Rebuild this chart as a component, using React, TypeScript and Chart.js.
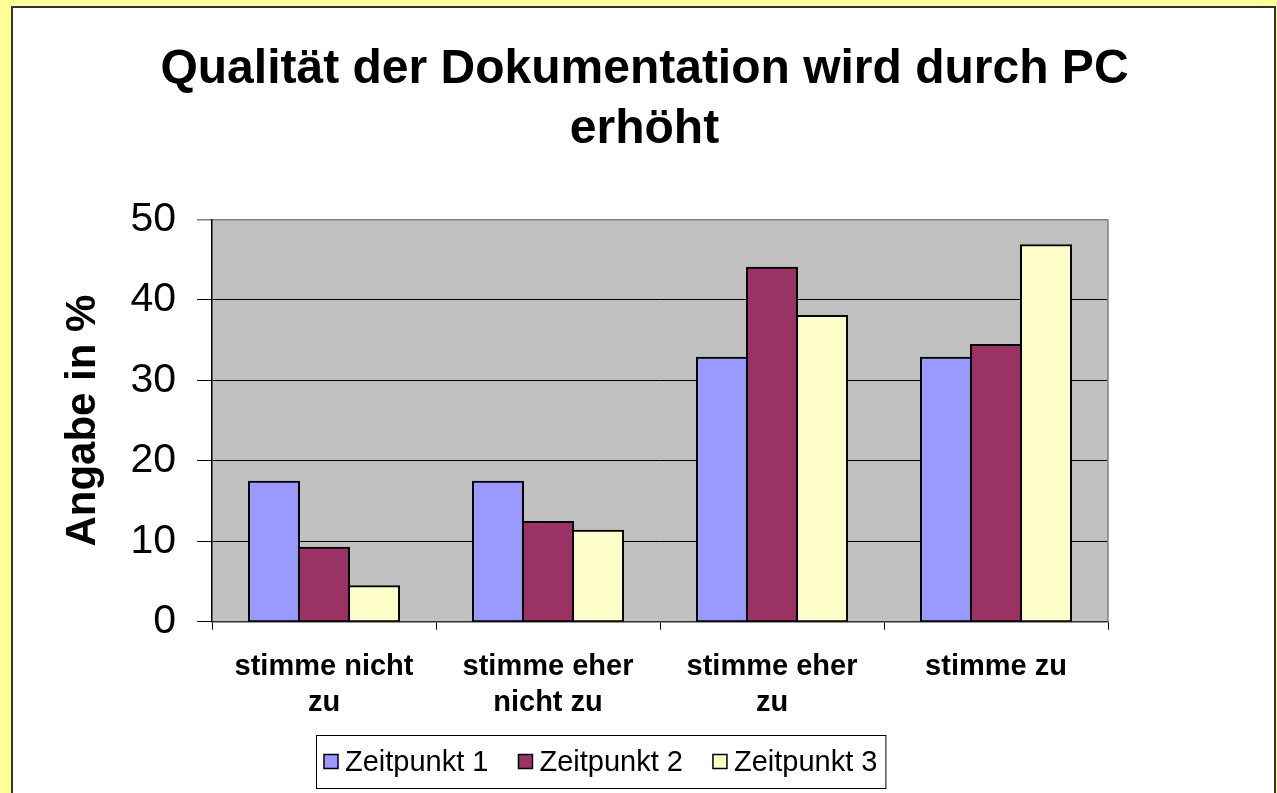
import React, { useEffect, useRef } from 'react';
import { Chart, registerables } from 'chart.js';

Chart.register(...registerables);

const categories: string[][] = [
  ['stimme nicht', 'zu'],
  ['stimme eher', 'nicht zu'],
  ['stimme eher', 'zu'],
  ['stimme zu'],
];
const seriesNames = ['Zeitpunkt 1', 'Zeitpunkt 2', 'Zeitpunkt 3'];
const zeitpunkt1 = [17.4, 17.4, 32.8, 32.8];
const zeitpunkt2 = [9.2, 12.4, 44.0, 34.4];
const zeitpunkt3 = [4.4, 11.3, 38.0, 46.8];
const seriesColors = ['#9999FF', '#993366', '#FFFFCC'];
const yMin = 0;
const yMax = 50;
const yStep = 10;
const titleLines = ['Qualität der Dokumentation wird durch PC', 'erhöht'];
const yAxisTitle = 'Angabe in %';

const FONT = '"Liberation Sans", Arial, Helvetica, sans-serif';

const plotBackground = {
  id: 'plotBackground',
  beforeDraw(chart: any) {
    const { ctx, chartArea } = chart;
    ctx.save();
    ctx.fillStyle = '#C0C0C0';
    ctx.fillRect(chartArea.left, chartArea.top, chartArea.right - chartArea.left, chartArea.bottom - chartArea.top);
    ctx.restore();
  },
  afterDatasetsDraw(chart: any) {
    const { ctx, chartArea } = chart;
    ctx.save();
    ctx.strokeStyle = '#808080';
    ctx.lineWidth = 1.5;
    ctx.beginPath();
    ctx.moveTo(chartArea.right, chartArea.top);
    ctx.lineTo(chartArea.right, chartArea.bottom);
    ctx.stroke();
    ctx.restore();
  },
};

const boxedLegend = {
  id: 'boxedLegend',
  afterDraw(chart: any) {
    const { ctx } = chart;
    const fontSize = 29;
    const marker = 14;
    const gapAfterMarker = 7;
    const itemGap = 30;
    const padX = 8;
    const left = 316;
    const top = 735;
    const height = 53;
    ctx.save();
    ctx.font = `${fontSize}px ${FONT}`;
    const items = chart.data.datasets.map((d: any) => ({
      label: d.label as string,
      color: d.backgroundColor as string,
      w: ctx.measureText(d.label).width,
    }));
    let total = 0;
    items.forEach((it: any, i: number) => {
      total += marker + gapAfterMarker + it.w + (i < items.length - 1 ? itemGap : 0);
    });
    const width = total + padX * 2;
    ctx.fillStyle = '#FFFFFF';
    ctx.fillRect(left, top, width, height);
    ctx.strokeStyle = '#000';
    ctx.lineWidth = 1;
    ctx.strokeRect(left + 0.5, top + 0.5, width, height);
    const cy = top + height / 2;
    let x = left + padX;
    items.forEach((it: any) => {
      ctx.fillStyle = it.color;
      ctx.fillRect(x, cy - marker / 2, marker, marker);
      ctx.strokeStyle = '#000';
      ctx.lineWidth = 1.5;
      ctx.strokeRect(x, cy - marker / 2, marker, marker);
      x += marker + gapAfterMarker;
      ctx.fillStyle = '#000';
      ctx.textAlign = 'left';
      ctx.textBaseline = 'middle';
      ctx.fillText(it.label, x, cy + 1);
      x += it.w + itemGap;
    });
    ctx.restore();
  },
};

export default function App() {
  const canvasRef = useRef<HTMLCanvasElement | null>(null);

  useEffect(() => {
    if (!canvasRef.current) return;
    Chart.defaults.font.family = FONT;
    const seriesValues = [zeitpunkt1, zeitpunkt2, zeitpunkt3];
    const chart = new Chart(canvasRef.current, {
      type: 'bar',
      data: {
        labels: categories,
        datasets: seriesNames.map((name, i) => ({
          label: name,
          data: seriesValues[i],
          backgroundColor: seriesColors[i],
          borderColor: '#000000',
          borderWidth: 2,
          borderSkipped: false,
          inflateAmount: 1,
          barPercentage: 1.0,
          categoryPercentage: 0.67,
          yAxisID: 'y',
        })),
      },
      options: {
        responsive: false,
        animation: false,
        events: [],
        layout: { padding: { left: 14, right: 2, top: 0, bottom: 0 } },
        plugins: {
          legend: { display: false },
          tooltip: { enabled: false },
          title: {
            display: true,
            text: titleLines,
            color: '#000',
            font: { size: 48, weight: 'bold', lineHeight: 1.25, family: FONT },
            padding: { top: 40, bottom: 59.5 },
          },
        },
        scales: {
          x: {
            grid: {
              display: true,
              drawOnChartArea: false,
              drawTicks: true,
              tickLength: 8,
              color: '#000',
              offset: true,
            },
            border: { display: true, color: '#333', width: 1.5 },
            ticks: {
              color: '#000',
              font: { size: 29, weight: 'bold', lineHeight: 1.24, family: FONT },
              padding: 19,
              maxRotation: 0,
              autoSkip: false,
            },
            afterFit(scale: any) {
              scale.height = 171.3;
            },
          },
          y: {
            position: 'left',
            min: yMin,
            max: yMax,
            grid: {
              color: (c: any) => (c.tick && c.tick.value === yMax ? '#808080' : '#000'),
              lineWidth: (c: any) => (c.tick && c.tick.value === yMax ? 1.5 : 1),
              drawTicks: true,
              tickLength: 15,
            },
            border: { display: true, color: '#000', width: 1.5 },
            ticks: {
              stepSize: yStep,
              color: '#000',
              font: { size: 41, family: FONT },
              padding: 21,
            },
            title: {
              display: true,
              text: yAxisTitle,
              color: '#000',
              font: { size: 42, weight: 'bold', family: FONT },
              padding: { top: 44, bottom: 0 },
            },
            afterFit(scale: any) {
              scale.width = 198;
            },
          },
          yRight: {
            type: 'linear',
            position: 'right',
            display: true,
            grid: { display: false, drawTicks: false },
            border: { display: false },
            ticks: { display: false },
            afterFit(scale: any) {
              scale.width = 167;
            },
          },
        },
      } as any,
      plugins: [plotBackground, boxedLegend],
    });
    return () => chart.destroy();
  }, []);

  return (
    <div style={{ position: 'fixed', left: 0, top: 0, width: 1277, height: 793, background: '#FFFF99', overflow: 'hidden' }}>
      <div
        style={{
          position: 'absolute',
          left: 11,
          top: 6,
          width: 1265,
          height: 800,
          boxSizing: 'border-box',
          background: '#FFFFFF',
          borderLeft: '2px solid #333',
          borderTop: '2px solid #333',
          borderRight: '2px solid #333',
        }}
      />
      <canvas
        ref={canvasRef}
        width={1277}
        height={793}
        style={{ position: 'absolute', left: 0, top: 0, width: 1277, height: 793 }}
      />
    </div>
  );
}
